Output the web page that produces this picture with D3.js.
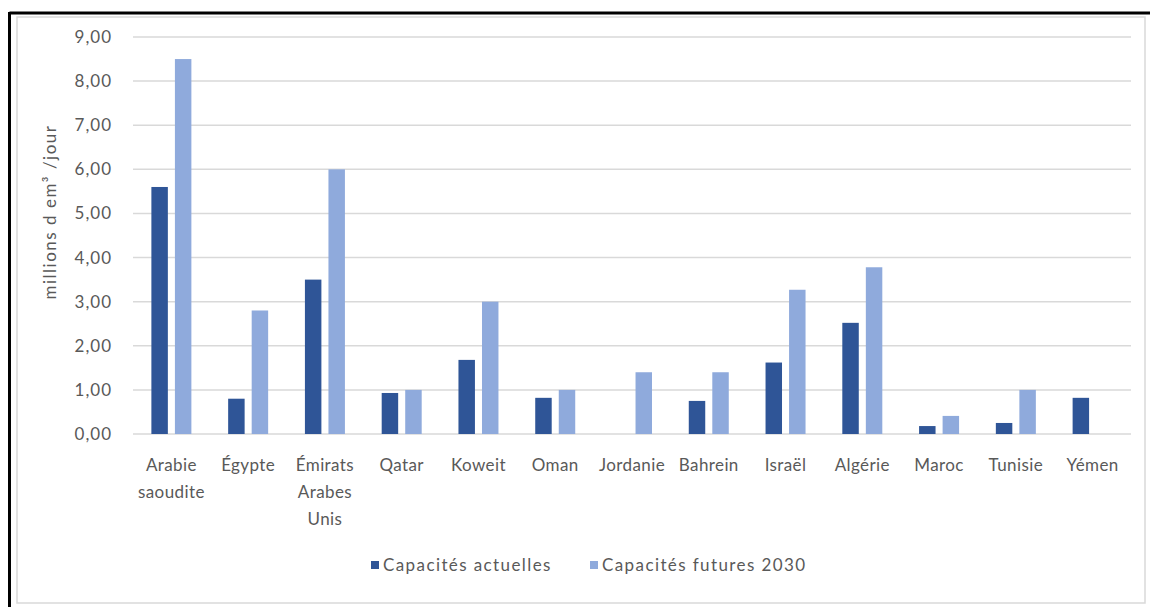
<!DOCTYPE html>
<html>
<head>
<meta charset="utf-8">
<script src="https://cdn.jsdelivr.net/npm/d3@7"></script>
<style>
  html, body { margin: 0; padding: 0; background: #fff; }
  svg { display: block; }
  text { font-family: Lato, "Open Sans", sans-serif; fill: #595959; }
</style>
</head>
<body>
<svg id="chart" width="1150" height="607"></svg>
<script>
// Desalination capacity by country (millions de m³ par jour)
const categories = [
  ["Arabie", "saoudite"], ["Égypte"], ["Émirats", "Arabes", "Unis"], ["Qatar"],
  ["Koweit"], ["Oman"], ["Jordanie"], ["Bahrein"], ["Israël"], ["Algérie"],
  ["Maroc"], ["Tunisie"], ["Yémen"]
];
const actuelles = [5.6, 0.8, 3.5, 0.93, 1.68, 0.82, 0, 0.75, 1.62, 2.52, 0.18, 0.25, 0.82];
const futures2030 = [8.5, 2.8, 6.0, 1.0, 3.0, 1.0, 1.4, 1.4, 3.27, 3.78, 0.41, 1.0, 0];
const yTicks = [0, 1, 2, 3, 4, 5, 6, 7, 8, 9];
const seriesNames = ["Capacités actuelles", "Capacités futures 2030"];
const seriesColors = ["#2f5597", "#8faadc"];

const svg = d3.select("#chart");

// outer frame
svg.append("rect").attr("x", 17).attr("y", 17).attr("width", 1128).attr("height", 586)
  .attr("fill", "none").attr("stroke", "#d9d9d9").attr("stroke-width", 1.5);
svg.append("line").attr("x1", 9.5).attr("x2", 1150).attr("y1", 13).attr("y2", 13)
  .attr("stroke", "#000").attr("stroke-width", 3);
svg.append("line").attr("x1", 9.5).attr("x2", 9.5).attr("y1", 12).attr("y2", 607)
  .attr("stroke", "#000").attr("stroke-width", 3);

const plot = { left: 133, right: 1131, top: 37, bottom: 434 };

const x = d3.scaleBand()
  .domain(d3.range(categories.length))
  .range([plot.left, plot.right])
  .paddingInner(0).paddingOuter(0);

const inner = d3.scaleBand()
  .domain([0, 1])
  .range([x.bandwidth() / 2 - 20, x.bandwidth() / 2 + 20])
  .paddingInner(0.3).paddingOuter(0);

const y = d3.scaleLinear().domain([0, 9]).range([plot.bottom, plot.top]);

// gridlines
svg.append("g")
  .selectAll("line").data(yTicks).join("line")
  .attr("x1", plot.left).attr("x2", plot.right)
  .attr("y1", d => y(d)).attr("y2", d => y(d))
  .attr("stroke", "#d9d9d9").attr("stroke-width", 1.5);

// y axis labels
const yAxis = d3.axisLeft(y).tickValues(yTicks)
  .tickFormat(d => d3.format(".2f")(d).replace(".", ","))
  .tickSize(0).tickPadding(0);
const yg = svg.append("g").attr("transform", `translate(${plot.left - 21},0)`).call(yAxis);
yg.select(".domain").remove();
yg.selectAll("text").attr("font-size", 17).attr("letter-spacing", 1)
  .style("fill", "#595959")
  .style("font-family", "Lato, 'Open Sans', sans-serif");

// y axis title
svg.append("text")
  .attr("transform", "translate(56,212) rotate(-90)")
  .attr("text-anchor", "middle").attr("font-size", 17).attr("letter-spacing", 1.5)
  .text("millions d em³ /jour");

// bars
const groups = svg.append("g").selectAll("g").data(categories).join("g")
  .attr("transform", (d, i) => `translate(${x(i)},0)`);

[actuelles, futures2030].forEach((vals, s) => {
  groups.append("rect")
    .attr("x", inner(s))
    .attr("width", inner.bandwidth())
    .attr("y", (d, i) => y(vals[i]))
    .attr("height", (d, i) => y(0) - y(vals[i]))
    .attr("fill", seriesColors[s]);
});

// category labels
groups.append("text")
  .attr("x", x.bandwidth() / 2)
  .attr("text-anchor", "middle")
  .attr("font-size", 17)
  .attr("letter-spacing", 0.4)
  .selectAll("tspan").data(d => d).join("tspan")
  .attr("x", x.bandwidth() / 2)
  .attr("y", (d, j) => 471 + j * 27)
  .text(d => d);

// legend
const legend = svg.append("g");
const legendX = [371, 590];
seriesNames.forEach((name, s) => {
  legend.append("rect").attr("x", legendX[s]).attr("y", 561)
    .attr("width", 8).attr("height", 8).attr("fill", seriesColors[s]);
  legend.append("text").attr("x", legendX[s] + 12).attr("y", 571)
    .attr("font-size", 17).attr("letter-spacing", 1.4).text(name);
});
</script>
</body>
</html>
